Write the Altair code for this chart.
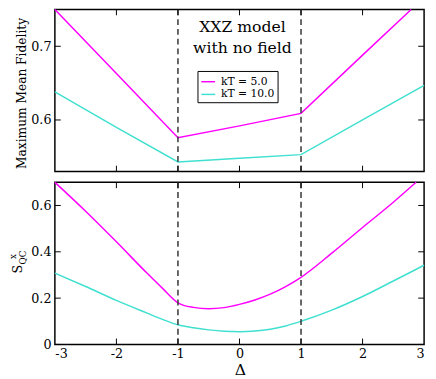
import altair as alt
import pandas as pd

SERIF = "DejaVu Serif"
MAGENTA = "#ff00ff"
CYAN = "#40e0d0"

# ---- data ----
series_names = ["kT = 5.0", "kT = 10.0"]

delta_top = [-3, -2, -1, 0, 1, 2, 2.79]
fid_kt5 = [0.750, 0.663, 0.576, 0.592, 0.609, 0.688, 0.750]
delta_top_c = [-3, -2, -1, 0, 1, 2, 3]
fid_kt10 = [0.638, 0.590, 0.543, 0.548, 0.553, 0.600, 0.647]

delta_bot = [-3, -2.5, -2, -1.5, -1.25, -1, -0.75, -0.5, -0.25, 0, 0.25, 0.5, 0.75,
             1, 1.5, 2, 2.5, 2.87]
sqc_kt5 = [0.700, 0.575, 0.443, 0.307, 0.242, 0.180, 0.160, 0.154, 0.159, 0.173, 0.192,
           0.217, 0.250, 0.290, 0.394, 0.505, 0.614, 0.700]
delta_bot_c = [-3, -2.5, -2, -1.5, -1.25, -1, -0.75, -0.5, -0.25, 0, 0.25, 0.5, 0.75,
               1, 1.5, 2, 2.5, 3]
sqc_kt10 = [0.308, 0.250, 0.190, 0.135, 0.108, 0.085, 0.072, 0.063, 0.057, 0.055, 0.058,
            0.066, 0.080, 0.100, 0.148, 0.207, 0.274, 0.342]

dash_positions = [-1, 1]
x_tick_values = [-3, -2, -1, 0, 1, 2, 3]
x_inner_ticks = [-2, -1, 0, 1, 2]
y_ticks_top = [0.6, 0.7]
y_ticks_bot = [0, 0.2, 0.4, 0.6]

W, H = 378, 166

top_df = pd.DataFrame({
    "delta": delta_top + delta_top_c,
    "value": fid_kt5 + fid_kt10,
    "series": [series_names[0]] * len(delta_top) + [series_names[1]] * len(delta_top_c),
})
bot_df = pd.DataFrame({
    "delta": delta_bot + delta_bot_c,
    "value": sqc_kt5 + sqc_kt10,
    "series": [series_names[0]] * len(delta_bot) + [series_names[1]] * len(delta_bot_c),
})

xscale = alt.Scale(domain=[-3, 3], nice=False, zero=False)
yscale_top = alt.Scale(domain=[0.53, 0.75], nice=False, zero=False)
yscale_bot = alt.Scale(domain=[0, 0.7], nice=False, zero=False)

x_label_expr = "datum.value < 0 ? '-' + abs(datum.value) : '' + datum.value"
y_label_expr = "datum.value == 0 ? '0' : format(datum.value, '.1f')"

AX_X_TOP = alt.Axis(values=x_tick_values, labels=False, ticks=False, domain=False,
                    grid=False, title=None)
AX_X_BOT = alt.Axis(values=x_tick_values, labelExpr=x_label_expr, ticks=False,
                    domain=False, grid=False, title=None, labelPadding=3)
AX_Y_TOP = alt.Axis(values=y_ticks_top, labelExpr=y_label_expr, ticks=False,
                    domain=False, grid=False, title=None, labelPadding=4)
AX_Y_BOT = alt.Axis(values=y_ticks_bot, labelExpr=y_label_expr, ticks=False,
                    domain=False, grid=False, title=None, labelPadding=4)


def text_layer(txt, x, y, size, angle=0, baseline="middle", font=SERIF):
    return alt.Chart(pd.DataFrame({"t": [txt]})).mark_text(
        font=font, fontSize=size, color="black", angle=angle,
        align="center", baseline=baseline,
    ).encode(text="t:N", x=alt.value(x), y=alt.value(y))


def tick_layers(yvals, yscale, ax_x, ax_y):
    xt = pd.DataFrame({"v": x_inner_ticks})
    yt = pd.DataFrame({"v": yvals})
    base_x = alt.Chart(xt).mark_rule(color="black", strokeWidth=1)
    base_y = alt.Chart(yt).mark_rule(color="black", strokeWidth=1)
    return [
        base_x.encode(x=alt.X("v:Q", scale=xscale, axis=ax_x), y=alt.value(H), y2=alt.value(H - 6)),
        base_x.encode(x=alt.X("v:Q", scale=xscale, axis=ax_x), y=alt.value(0), y2=alt.value(6)),
        base_y.encode(y=alt.Y("v:Q", scale=yscale, axis=ax_y), x=alt.value(0), x2=alt.value(6)),
        base_y.encode(y=alt.Y("v:Q", scale=yscale, axis=ax_y), x=alt.value(W - 6), x2=alt.value(W)),
    ]


def dash_layer(ax_x):
    return alt.Chart(pd.DataFrame({"d": dash_positions})).mark_rule(
        color="#333333", strokeWidth=1.5, strokeDash=[6, 4]
    ).encode(x=alt.X("d:Q", scale=xscale, axis=ax_x))


color_scale = alt.Scale(domain=series_names, range=[MAGENTA, CYAN])

top_lines = alt.Chart(top_df).mark_line(strokeWidth=1.5).encode(
    x=alt.X("delta:Q", scale=xscale, axis=AX_X_TOP),
    y=alt.Y("value:Q", scale=yscale_top, axis=AX_Y_TOP),
    color=alt.Color("series:N", scale=color_scale, sort=series_names,
                    legend=alt.Legend(orient="none", legendX=146, legendY=63, title=None,
                                      strokeColor="black", fillColor="white", padding=3,
                                      symbolType="stroke", symbolSize=200,
                                      symbolStrokeWidth=1.5, labelFont=SERIF,
                                      labelFontSize=11, labelColor="black",
                                      rowPadding=0, labelOffset=5, cornerRadius=0)),
)

top = alt.layer(
    top_lines,
    dash_layer(AX_X_TOP),
    *tick_layers(y_ticks_top, yscale_top, AX_X_TOP, AX_Y_TOP),
    text_layer("XXZ model", 192, 18, 16),
    text_layer("with no field", 192, 40, 16),
    text_layer("Maximum Mean Fidelity", -34, 86, 12.5, angle=270),
).properties(width=W, height=H)

bot_lines = alt.Chart(bot_df).mark_line(strokeWidth=1.5, interpolate="monotone").encode(
    x=alt.X("delta:Q", scale=xscale, axis=AX_X_BOT),
    y=alt.Y("value:Q", scale=yscale_bot, axis=AX_Y_BOT),
    color=alt.Color("series:N", scale=color_scale, sort=series_names, legend=None),
)

bot = alt.layer(
    bot_lines,
    dash_layer(AX_X_BOT),
    *tick_layers(y_ticks_bot, yscale_bot, AX_X_BOT, AX_Y_BOT),
    text_layer("S", -38, 89, 13, angle=270),
    text_layer("x", -43, 76, 9, angle=270),
    text_layer("QC", -33, 77, 9, angle=270),
    text_layer("Δ", 190, 26 + H, 16),
).properties(width=W, height=H)

chart = alt.vconcat(top, bot, spacing=5).resolve_scale(color="independent").resolve_legend(
    color="independent"
).properties(
    padding={"left": 0, "top": -7, "right": 0, "bottom": 0},
    background="white",
).configure_view(
    stroke="black", strokeWidth=1.5
).configure_axis(
    labelFont=SERIF, labelFontSize=13, labelColor="black"
)

chart.save("out.html", embed_options={"renderer": "svg", "actions": False})
